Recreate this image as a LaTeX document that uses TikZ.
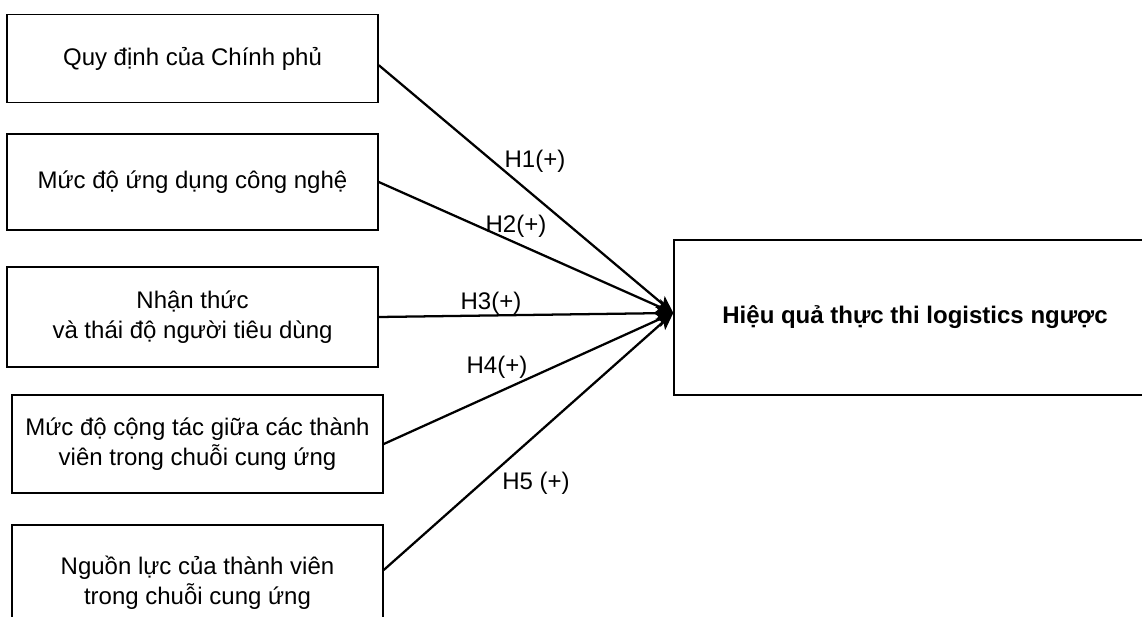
\documentclass[tikz,border=0pt]{standalone}
\usepackage{fontspec}
\setmainfont{Liberation Sans}
\usetikzlibrary{arrows.meta, positioning}
\tikzset{
    factor/.style={draw, line width=1.1pt, minimum width=278.25pt, align=center, inner sep=2pt, font=\fontsize{18}{22.5}\selectfont}, % the boxes on the left
    outcome/.style={draw, line width=1.1pt, minimum width=361.5pt, minimum height=116.25pt, font=\fontsize{18}{22.5}\selectfont\bfseries}, % the box on the right
    hyp/.style={inner sep=1pt, font=\fontsize{18}{22.5}\selectfont}, % labels on the arrows
    link/.style={line width=1.7pt}, % the arrows
    >={Stealth[length=13pt, width=11pt, inset=3pt]}, % filled arrow heads
}
\begin{document}
\begin{tikzpicture}[x=0.75pt, y=-0.75pt]
    \path[use as bounding box, clip] (0,0) rectangle (1142,617);
    \node[factor, minimum height=66pt] (gov) at (192.5,58.5) {Quy định của Chính phủ};
    \node[factor, minimum height=72pt] (tech) at (192.5,182) {Mức độ ứng dụng công nghệ};
    \node[factor, minimum height=75pt] (aware) at (192.5,317) {Nhận thức\\và thái độ người tiêu dùng};
    \node[factor, minimum height=73.5pt] (collab) at (197.5,444) {Mức độ cộng tác giữa các thành\\viên trong chuỗi cung ứng};
    \node[factor, minimum height=87pt] (res) at (197.5,583) {Nguồn lực của thành viên\\trong chuỗi cung ứng};
    \node[outcome] (perf) at (915,317.5) {Hiệu quả thực thi logistics ngược};
    \draw[link, ->] ([yshift=-5pt]gov.east) -- ([yshift=3.4pt]perf.west);
    \draw[link, ->] (tech.east) -- ([yshift=3.4pt]perf.west);
    \draw[link, ->] (aware.east) -- ([yshift=3.4pt]perf.west);
    \draw[link, ->] (collab.east) -- ([yshift=3.4pt]perf.west);
    \draw[link, ->] ([yshift=9.75pt]res.east) -- ([yshift=3.4pt]perf.west);
    \node[hyp] (h1) at (535,161) {H1(+)};
    \node[hyp] (h2) at (516,226) {H2(+)};
    \node[hyp] (h3) at (491,303) {H3(+)};
    \node[hyp] (h4) at (497,367) {H4(+)};
    \node[hyp] (h5) at (536,483) {H5 (+)};
\end{tikzpicture}
\end{document}
